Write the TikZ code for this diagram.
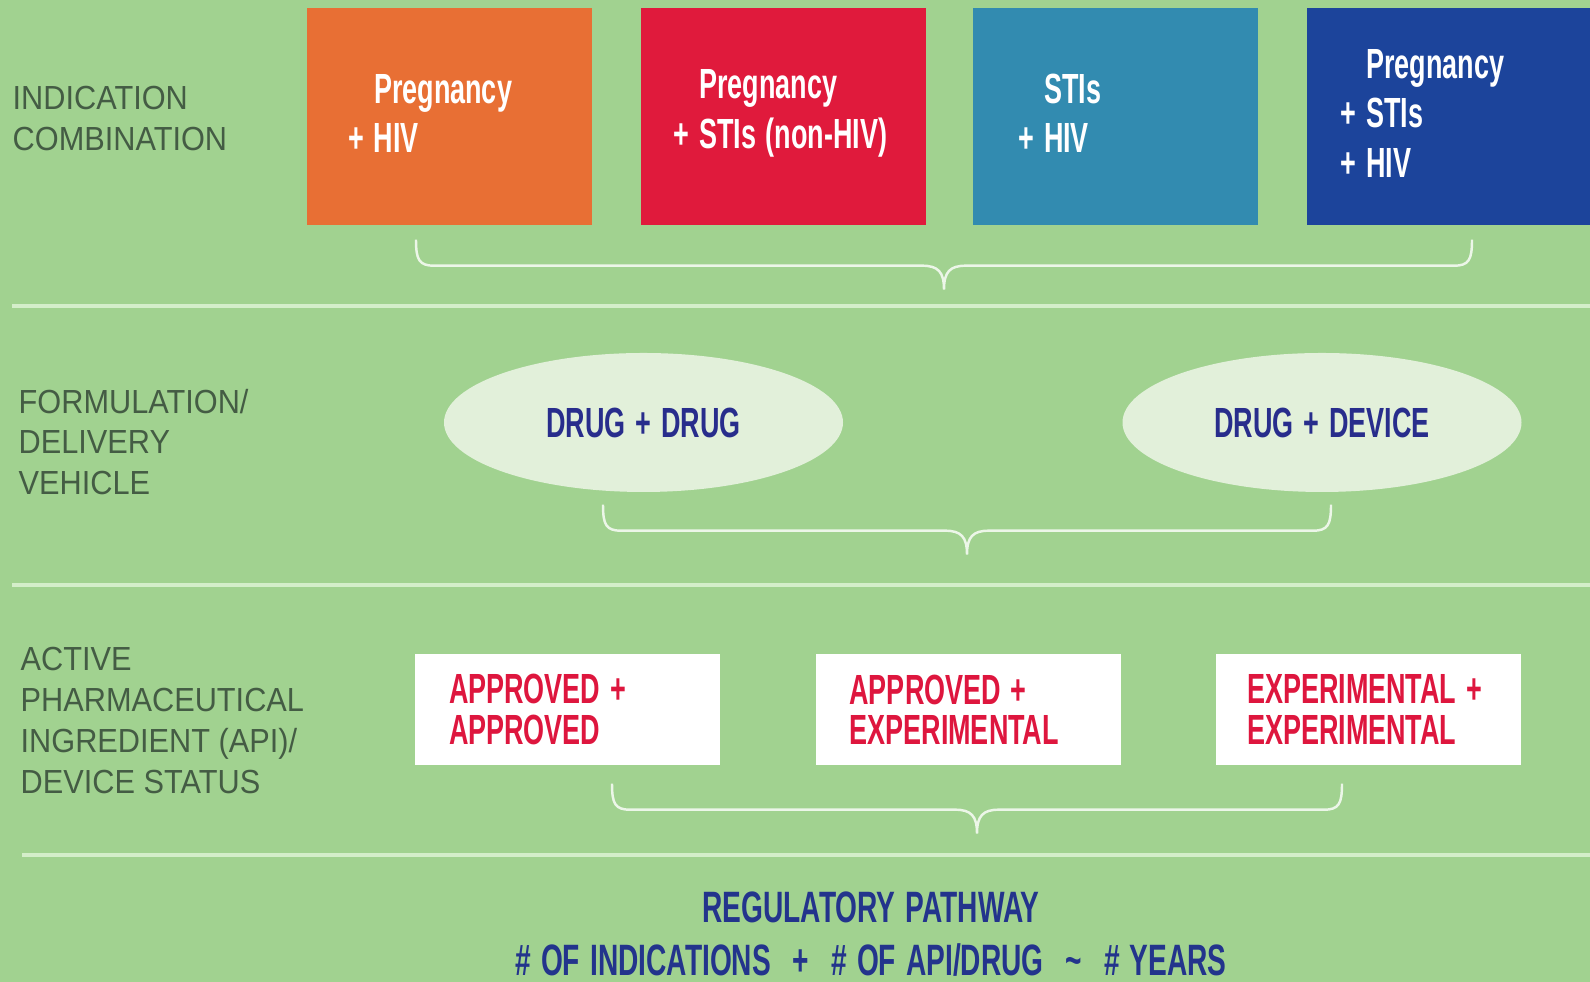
\documentclass[tikz,border=0pt]{standalone}
\usepackage{fontspec}
\setmainfont{Liberation Sans}
\newfontfamily\condfont{Liberation Sans Bold}[FakeStretch=0.64,WordSpace=1.3]
\newfontfamily\labelfont{Liberation Sans}[FakeStretch=0.92]
\usetikzlibrary{shapes.geometric,calc}

\definecolor{bggreen}{RGB}{161,210,144}
\definecolor{labelgray}{RGB}{68,92,68}
\definecolor{pregorange}{RGB}{232,111,52}
\definecolor{stired}{RGB}{224,26,60}
\definecolor{hivteal}{RGB}{50,139,176}
\definecolor{allnavy}{RGB}{28,68,155}
\definecolor{ellipsefill}{RGB}{226,240,218}
\definecolor{drugblue}{RGB}{40,45,140}
\definecolor{statred}{RGB}{222,22,62}
\definecolor{pathblue}{RGB}{35,52,140}
\definecolor{linegreen}{RGB}{212,238,202}
\definecolor{bracewhite}{RGB}{236,246,232}

\begin{document}
\begin{tikzpicture}[
        rowlabel/.style={
            font=\labelfont\fontsize{9.5}{11.6}\selectfont,
            text=labelgray,
            align=left,
            anchor=west,
            inner sep=0pt
        },
        indbox/.style={
            rectangle,
            minimum width=2.85cm,
            minimum height=2.17cm,
            inner sep=0pt
        },
        indtext/.style={
            font=\condfont\fontsize{12}{14.1}\selectfont,
            text=white,
            align=left,
            anchor=west,
            inner sep=0pt
        },
        vehicle/.style={
            ellipse,
            fill=ellipsefill,
            minimum width=3.99cm,
            minimum height=1.39cm,
            inner sep=0pt,
            text=drugblue,
            font=\condfont\fontsize{12}{14}\selectfont
        },
        statbox/.style={
            rectangle,
            fill=white,
            minimum width=3.05cm,
            minimum height=1.11cm,
            inner sep=0pt
        },
        stattext/.style={
            font=\condfont\fontsize{12}{11.5}\selectfont,
            text=statred,
            align=left,
            anchor=west,
            inner sep=0pt
        },
        divider/.style={draw=linegreen,line width=1pt},
        groupbrace/.style={
            draw=bracewhite,
            line width=0.7pt,
            to path={
                let \p1=(\tikztostart), \p2=(\tikztotarget), \n1={0.5*\x1+0.5*\x2} in
                (\p1) .. controls ({\x1},{\y1-0.2cm}) and ({\x1+0.03cm},{\y1-0.26cm}) .. ({\x1+0.18cm},{\y1-0.26cm})
                -- ({\n1-0.22cm},{\y1-0.26cm})
                .. controls ({\n1-0.06cm},{\y1-0.26cm}) and ({\n1},{\y1-0.32cm}) .. ({\n1},{\y1-0.5cm})
                .. controls ({\n1},{\y1-0.32cm}) and ({\n1+0.06cm},{\y1-0.26cm}) .. ({\n1+0.22cm},{\y1-0.26cm})
                -- ({\x2-0.18cm},{\y1-0.26cm})
                .. controls ({\x2-0.03cm},{\y1-0.26cm}) and ({\x2},{\y1-0.2cm}) .. (\p2)
            }
        }
    ]
    \useasboundingbox (0,0) rectangle (15.9,9.82);
    \clip (0,0) rectangle (15.9,9.82);
    \fill[bggreen] (0,0) rectangle (15.9,9.82);

    \node[rowlabel] (indlabel) at (0.12,8.635) {INDICATION\\COMBINATION};
    \node[rowlabel] (vehlabel) at (0.18,5.40) {FORMULATION/\\DELIVERY\\VEHICLE};
    \node[rowlabel] (apilabel) at (0.20,2.615) {ACTIVE\\PHARMACEUTICAL\\INGREDIENT (API)/\\DEVICE STATUS};

    \begin{scope}[
        yshift=8.655cm
    ]
        \node[indbox,fill=pregorange] (preghiv) at (4.495,0) {};
        \node[indtext] at ([xshift=0.67cm,yshift=0.03cm]preghiv.west) {Pregnancy\\\llap{+\ }HIV};
        \node[indbox,fill=stired] (pregsti) at (7.835,0) {};
        \node[indtext] at ([xshift=0.58cm,yshift=0.03cm]pregsti.west) {Pregnancy\\\llap{+\ }STIs (non-HIV)};
        \node[indbox,fill=hivteal] (stihiv) at (11.155,0) {};
        \node[indtext] at ([xshift=0.71cm,yshift=0.03cm]stihiv.west) {STIs\\\llap{+\ }HIV};
        \node[indbox,fill=allnavy] (pregstihiv) at (14.495,0) {};
        \node[indtext] at ([xshift=0.59cm,yshift=0.03cm]pregstihiv.west) {Pregnancy\\\llap{+\ }STIs\\\llap{+\ }HIV};
    \end{scope}
    \draw[groupbrace] ([xshift=-0.335cm,yshift=-0.14cm]preghiv.south)
        to ([xshift=0.225cm,yshift=-0.14cm]pregstihiv.south);
    \draw[divider] (0.12,6.76) -- (15.9,6.76);

    \node[vehicle] (drugdrug) at (6.435,5.595) {DRUG + DRUG};
    \node[vehicle] (drugdevice) at (13.22,5.595) {DRUG + DEVICE};
    \draw[groupbrace] ([xshift=-0.405cm,yshift=-0.12cm]drugdrug.south)
        to ([xshift=0.09cm,yshift=-0.12cm]drugdevice.south);
    \draw[divider] (0.12,3.97) -- (15.9,3.97);

    \begin{scope}[
        yshift=2.725cm
    ]
        \node[statbox] (appapp) at (5.675,0) {};
        \node[stattext] at ([xshift=0.34cm]appapp.west) {APPROVED +\\APPROVED};
        \node[statbox] (appexp) at (9.68,0) {};
        \node[stattext] at ([xshift=0.34cm]appexp.west) {APPROVED +\\EXPERIMENTAL};
        \node[statbox] (expexp) at (13.685,0) {};
        \node[stattext] at ([xshift=0.31cm]expexp.west) {EXPERIMENTAL +\\EXPERIMENTAL};
    \end{scope}
    \draw[groupbrace] ([xshift=0.445cm,yshift=-0.18cm]appapp.south)
        to ([xshift=-0.265cm,yshift=-0.18cm]expexp.south);
    \draw[divider] (0.22,1.27) -- (15.9,1.27);

    \node[
        font=\condfont\fontsize{12.5}{15.2}\selectfont,
        text=pathblue,
        align=center
    ] (pathway) at (8.71,0.48) {REGULATORY PATHWAY\\\# OF INDICATIONS\enspace+\enspace\# OF API/DRUG\enspace\textasciitilde\enspace\# YEARS};
\end{tikzpicture}
\end{document}
